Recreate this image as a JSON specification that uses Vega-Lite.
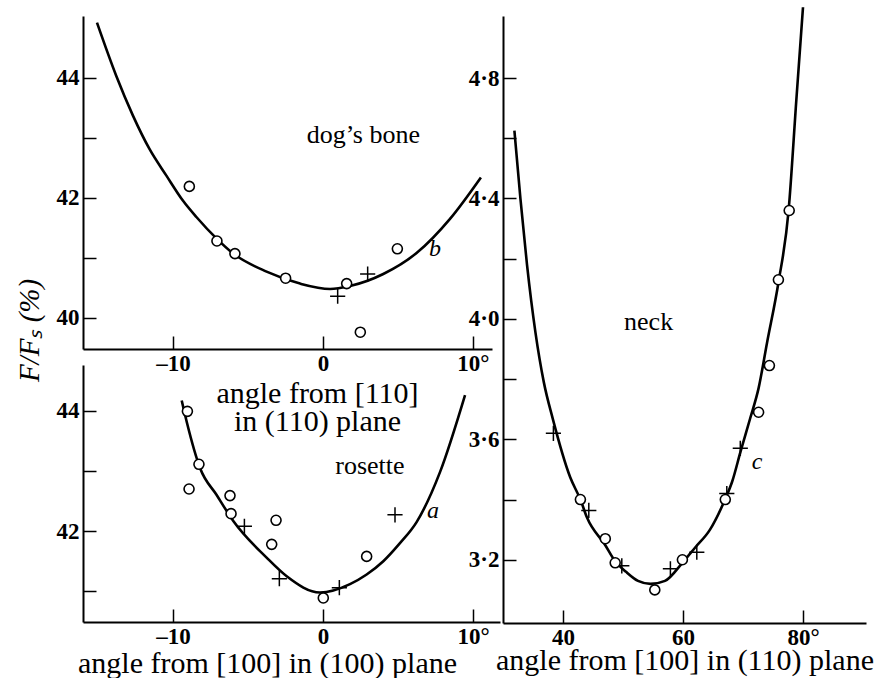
{
  "$schema": "https://vega.github.io/schema/vega-lite/v6.json",
  "background": "white",
  "padding": {"left": 15, "top": 2, "right": 0, "bottom": 0},
  "config": {
    "view": {"stroke": null},
    "font": "Liberation Serif",
    "axis": {
      "grid": false,
      "labelFont": "Liberation Serif",
      "titleFont": "Liberation Serif",
      "labelColor": "black",
      "titleColor": "black",
      "domainColor": "black",
      "tickColor": "black",
      "labelFontSize": 23,
      "labelFontWeight": "bold",
      "titleFontSize": 30,
      "titleFontWeight": "normal",
      "domainWidth": 2,
      "tickWidth": 1.5,
      "tickSize": -13,
      "labelPadding": 16,
      "labelFlush": false,
      "labelOverlap": false
    },
    "text": {"font": "Liberation Serif", "color": "black"}
  },
  "datasets": {
    "dogCurve": [
      {"x": -15.07, "y": 44.92}, {"x": -13.78, "y": 44.03}, {"x": -12.67, "y": 43.37},
      {"x": -11.56, "y": 42.81}, {"x": -10.44, "y": 42.37}, {"x": -9.33, "y": 41.95},
      {"x": -8.44, "y": 41.68}, {"x": -7.09, "y": 41.32}, {"x": -5.98, "y": 41.07},
      {"x": -3.76, "y": 40.77}, {"x": -1.53, "y": 40.57}, {"x": 0.47, "y": 40.48},
      {"x": 1.8, "y": 40.53}, {"x": 4.02, "y": 40.73}, {"x": 6.24, "y": 41.08},
      {"x": 8.47, "y": 41.65}, {"x": 10.53, "y": 42.34}
    ],
    "dogPts": [
      {"x": -8.91, "y": 42.19, "kind": "o"}, {"x": -7.07, "y": 41.28, "kind": "o"},
      {"x": -5.87, "y": 41.07, "kind": "o"}, {"x": -2.49, "y": 40.66, "kind": "o"},
      {"x": 1.58, "y": 40.57, "kind": "o"}, {"x": 4.96, "y": 41.15, "kind": "o"},
      {"x": 2.49, "y": 39.76, "kind": "o"},
      {"x": 0.98, "y": 40.36, "kind": "+"}, {"x": 2.98, "y": 40.73, "kind": "+"}
    ],
    "roseCurve": [
      {"x": -9.42, "y": 44.17}, {"x": -9.07, "y": 43.8}, {"x": -8.2, "y": 43.05},
      {"x": -7.09, "y": 42.6}, {"x": -5.98, "y": 42.17}, {"x": -3.76, "y": 41.56},
      {"x": -2.42, "y": 41.25}, {"x": -0.2, "y": 40.98}, {"x": 1.8, "y": 41.12},
      {"x": 2.91, "y": 41.28}, {"x": 4.02, "y": 41.5}, {"x": 5.13, "y": 41.8},
      {"x": 6.24, "y": 42.15}, {"x": 7.8, "y": 42.98}, {"x": 9.47, "y": 44.26}
    ],
    "rosePts": [
      {"x": -9.04, "y": 43.99, "kind": "o"}, {"x": -8.27, "y": 43.11, "kind": "o"},
      {"x": -8.93, "y": 42.7, "kind": "o"}, {"x": -6.2, "y": 42.59, "kind": "o"},
      {"x": -6.13, "y": 42.29, "kind": "o"}, {"x": -3.13, "y": 42.18, "kind": "o"},
      {"x": -3.42, "y": 41.78, "kind": "o"}, {"x": 0.02, "y": 40.89, "kind": "o"},
      {"x": 2.91, "y": 41.58, "kind": "o"},
      {"x": -5.24, "y": 42.08, "kind": "+"}, {"x": -2.91, "y": 41.21, "kind": "+"},
      {"x": 1.09, "y": 41.06, "kind": "+"}, {"x": 4.8, "y": 42.27, "kind": "+"}
    ],
    "neckCurve": [
      {"x": 31.9, "y": 4.625}, {"x": 32.9, "y": 4.4}, {"x": 34.0, "y": 4.18},
      {"x": 35.4, "y": 3.956}, {"x": 36.8, "y": 3.79}, {"x": 38.3, "y": 3.668},
      {"x": 41.2, "y": 3.474}, {"x": 42.9, "y": 3.4}, {"x": 44.0, "y": 3.34},
      {"x": 47.0, "y": 3.25}, {"x": 48.7, "y": 3.195}, {"x": 50.5, "y": 3.16},
      {"x": 52.5, "y": 3.13}, {"x": 54.6, "y": 3.12}, {"x": 57.0, "y": 3.13},
      {"x": 59.9, "y": 3.19}, {"x": 62.0, "y": 3.24}, {"x": 64.5, "y": 3.3},
      {"x": 67.0, "y": 3.4}, {"x": 68.2, "y": 3.46}, {"x": 69.6, "y": 3.56},
      {"x": 71.2, "y": 3.67}, {"x": 72.6, "y": 3.77}, {"x": 74.0, "y": 3.92},
      {"x": 75.9, "y": 4.12}, {"x": 77.6, "y": 4.36}, {"x": 78.9, "y": 4.73},
      {"x": 80.0, "y": 5.035}
    ],
    "neckPts": [
      {"x": 42.9, "y": 3.4, "kind": "o"}, {"x": 47.05, "y": 3.27, "kind": "o"},
      {"x": 48.7, "y": 3.19, "kind": "o"}, {"x": 55.3, "y": 3.1, "kind": "o"},
      {"x": 59.9, "y": 3.2, "kind": "o"}, {"x": 67.05, "y": 3.4, "kind": "o"},
      {"x": 72.6, "y": 3.69, "kind": "o"}, {"x": 74.4, "y": 3.845, "kind": "o"},
      {"x": 75.9, "y": 4.13, "kind": "o"}, {"x": 77.7, "y": 4.36, "kind": "o"},
      {"x": 38.4, "y": 3.62, "kind": "+"}, {"x": 44.3, "y": 3.364, "kind": "+"},
      {"x": 49.8, "y": 3.18, "kind": "+"}, {"x": 57.9, "y": 3.17, "kind": "+"},
      {"x": 62.3, "y": 3.225, "kind": "+"}, {"x": 67.3, "y": 3.42, "kind": "+"},
      {"x": 69.55, "y": 3.57, "kind": "+"}
    ],
    "dogNotes": [
      {"x": 2.69, "y": 43.04, "text": "dog’s bone", "kind": "name"},
      {"x": 7.47, "y": 41.14, "text": "b", "kind": "letter"}
    ],
    "roseNotes": [
      {"x": 3.13, "y": 43.08, "text": "rosette", "kind": "name"},
      {"x": 7.33, "y": 42.33, "text": "a", "kind": "letter"}
    ],
    "neckNotes": [
      {"x": 54.27, "y": 3.99, "text": "neck", "kind": "name"},
      {"x": 72.33, "y": 3.524, "text": "c", "kind": "letter"}
    ]
  },
  "spacing": -32,
  "hconcat": [
    {
      "bounds": "flush",
      "spacing": 16,
      "vconcat": [
        {
          "width": 409,
          "height": 333,
          "encoding": {
            "x": {
              "field": "x", "type": "quantitative",
              "scale": {"domain": [-16, 11.27], "nice": false, "zero": false},
              "axis": {
                "values": [-10, 0, 10],
                "labelExpr": "datum.value == 10 ? '10°' : (datum.value == -10 ? '–10' : datum.label)",
                "title": ["angle from [110]", "in (110) plane"],
                "titleX": 234, "titleY": 53, "titleAlign": "center",
                "titleBaseline": "alphabetic", "titleLineHeight": 28.5
              }
            },
            "y": {
              "field": "y", "type": "quantitative",
              "scale": {"domain": [39.48, 45.03], "nice": false, "zero": false},
              "axis": {
                "values": [40, 41, 42, 43, 44],
                "labelExpr": "datum.value % 2 == 0 ? datum.label : ''",
                "labelPadding": 17,
                "title": "F/Fₛ (%)",
                "titleFontStyle": "italic", "titleFontSize": 29,
                "titleAngle": 270, "titleX": -45, "titleY": 314,
                "titleAlign": "center", "titleBaseline": "alphabetic"
              }
            }
          },
          "layer": [
            {"data": {"name": "dogCurve"}, "mark": {"type": "line", "interpolate": "monotone", "color": "black", "strokeWidth": 2.6}},
            {"data": {"name": "dogPts"}, "transform": [{"filter": "datum.kind == '+'"}], "mark": {"type": "point", "shape": "M-1,0H1M0,-1V1", "size": 230, "filled": false, "stroke": "black", "strokeWidth": 1.5, "opacity": 1}},
            {"data": {"name": "dogPts"}, "transform": [{"filter": "datum.kind == 'o'"}], "mark": {"type": "point", "shape": "circle", "size": 100, "filled": true, "fill": "white", "stroke": "black", "strokeWidth": 1.6, "opacity": 1}},
            {"data": {"name": "dogNotes"}, "transform": [{"filter": "datum.kind == 'name'"}], "mark": {"type": "text", "fontSize": 26, "align": "center", "baseline": "middle"}, "encoding": {"text": {"field": "text"}}},
            {"data": {"name": "dogNotes"}, "transform": [{"filter": "datum.kind == 'letter'"}], "mark": {"type": "text", "fontSize": 24, "fontStyle": "italic", "align": "center", "baseline": "middle"}, "encoding": {"text": {"field": "text"}}}
          ]
        },
        {
          "width": 417,
          "height": 257,
          "encoding": {
            "x": {
              "field": "x", "type": "quantitative",
              "scale": {"domain": [-16, 11.8], "nice": false, "zero": false},
              "axis": {
                "values": [-10, 0, 10],
                "labelExpr": "datum.value == 10 ? '10°' : (datum.value == -10 ? '–10' : datum.label)",
                "title": "angle from [100] in (100) plane",
                "titleX": 184, "titleY": 50, "titleAlign": "center",
                "titleBaseline": "alphabetic"
              }
            },
            "y": {
              "field": "y", "type": "quantitative",
              "scale": {"domain": [40.49, 44.76], "nice": false, "zero": false},
              "axis": {
                "values": [41, 42, 43, 44],
                "labelExpr": "datum.value % 2 == 0 ? datum.label : ''",
                "labelPadding": 17,
                "title": null
              }
            }
          },
          "layer": [
            {"data": {"name": "roseCurve"}, "mark": {"type": "line", "interpolate": "monotone", "color": "black", "strokeWidth": 2.6}},
            {"data": {"name": "rosePts"}, "transform": [{"filter": "datum.kind == '+'"}], "mark": {"type": "point", "shape": "M-1,0H1M0,-1V1", "size": 230, "filled": false, "stroke": "black", "strokeWidth": 1.5, "opacity": 1}},
            {"data": {"name": "rosePts"}, "transform": [{"filter": "datum.kind == 'o'"}], "mark": {"type": "point", "shape": "circle", "size": 100, "filled": true, "fill": "white", "stroke": "black", "strokeWidth": 1.6, "opacity": 1}},
            {"data": {"name": "roseNotes"}, "transform": [{"filter": "datum.kind == 'name'"}], "mark": {"type": "text", "fontSize": 26, "align": "center", "baseline": "middle"}, "encoding": {"text": {"field": "text"}}},
            {"data": {"name": "roseNotes"}, "transform": [{"filter": "datum.kind == 'letter'"}], "mark": {"type": "text", "fontSize": 24, "fontStyle": "italic", "align": "center", "baseline": "middle"}, "encoding": {"text": {"field": "text"}}}
          ]
        }
      ]
    },
    {
      "width": 363,
      "height": 607,
      "encoding": {
        "x": {
          "field": "x", "type": "quantitative",
          "scale": {"domain": [30, 90.5], "nice": false, "zero": false},
          "axis": {
            "values": [40, 60, 80],
            "labelExpr": "datum.value == 80 ? '80°' : datum.label",
            "title": "angle from [100] in (110) plane",
            "titleY": 46, "titleBaseline": "alphabetic"
          }
        },
        "y": {
          "field": "y", "type": "quantitative",
          "scale": {"domain": [2.99, 5.006], "nice": false, "zero": false},
          "axis": {
            "values": [3.2, 3.4, 3.6, 3.8, 4.0, 4.2, 4.4, 4.6, 4.8],
            "labelExpr": "indexof(['3.2','3.6','4.0','4.4','4.8'], format(datum.value, '.1f')) >= 0 ? replace(format(datum.value, '.1f'), '.', '·') : ''",
            "labelPadding": 17,
            "title": null
          }
        }
      },
      "layer": [
        {"data": {"name": "neckCurve"}, "mark": {"type": "line", "interpolate": "monotone", "color": "black", "strokeWidth": 2.6}},
        {"data": {"name": "neckPts"}, "transform": [{"filter": "datum.kind == '+'"}], "mark": {"type": "point", "shape": "M-1,0H1M0,-1V1", "size": 230, "filled": false, "stroke": "black", "strokeWidth": 1.5, "opacity": 1}},
        {"data": {"name": "neckPts"}, "transform": [{"filter": "datum.kind == 'o'"}], "mark": {"type": "point", "shape": "circle", "size": 100, "filled": true, "fill": "white", "stroke": "black", "strokeWidth": 1.6, "opacity": 1}},
        {"data": {"name": "neckNotes"}, "transform": [{"filter": "datum.kind == 'name'"}], "mark": {"type": "text", "fontSize": 26, "align": "center", "baseline": "middle"}, "encoding": {"text": {"field": "text"}}},
        {"data": {"name": "neckNotes"}, "transform": [{"filter": "datum.kind == 'letter'"}], "mark": {"type": "text", "fontSize": 24, "fontStyle": "italic", "align": "center", "baseline": "middle"}, "encoding": {"text": {"field": "text"}}}
      ]
    }
  ]
}
